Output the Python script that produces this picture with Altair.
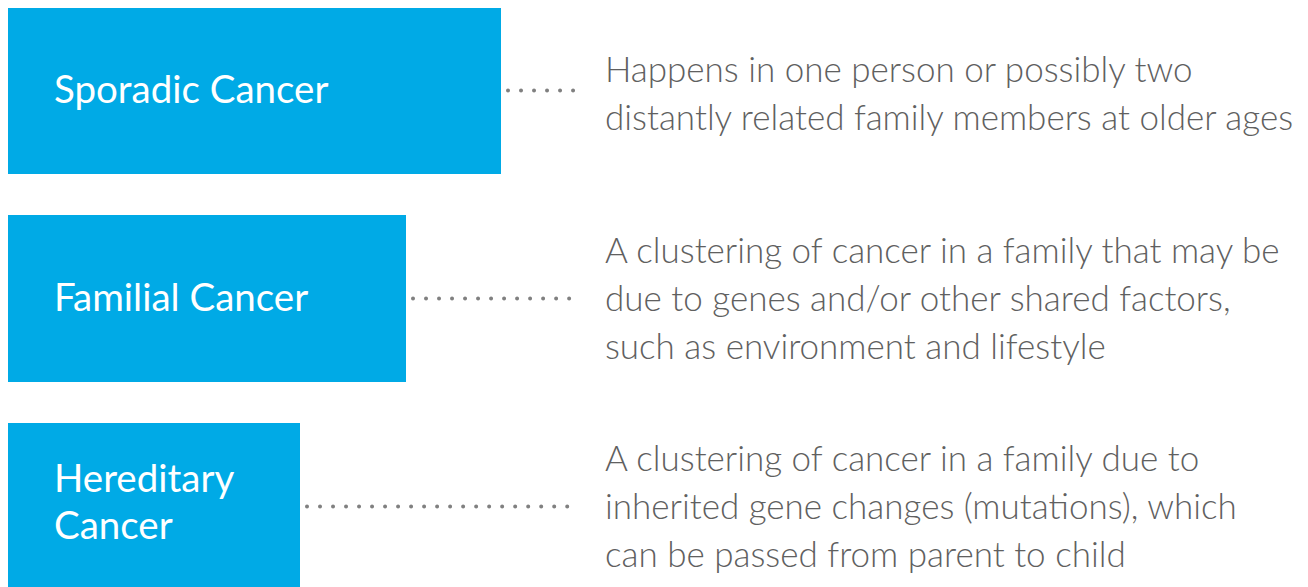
import altair as alt
import pandas as pd

categories = ["Sporadic Cancer", "Familial Cancer", "Hereditary Cancer"]
labels = ["Sporadic Cancer", "Familial Cancer", "Hereditary\nCancer"]
bar_lengths = [493, 398, 292]
descriptions = [
    "Happens in one person or possibly two\ndistantly related family members at older ages",
    "A clustering of cancer in a family that may be\ndue to genes and/or other shared factors,\nsuch as environment and lifestyle",
    "A clustering of cancer in a family due to\ninherited gene changes (mutations), which\ncan be passed from parent to child",
]

df = pd.DataFrame({
    "cat": categories,
    "label": labels,
    "length": bar_lengths,
    "desc": descriptions,
})
df["label_lines"] = df["label"].str.count("\n") + 1
df["desc_lines"] = df["desc"].str.count("\n") + 1

W, H = 1292, 579
BLUE = "#00AAE6"
LABEL_LH = 47
DESC_LH = 48
LABEL_NUDGE = {1: 0, 2: -3}
DESC_NUDGE = {2: 4, 3: 1.5}

y_enc = alt.Y(
    "cat:N",
    sort=categories,
    scale=alt.Scale(range=[-1, 582], paddingInner=0.197, paddingOuter=0),
    axis=None,
)
x_scale = alt.Scale(domain=[0, W], nice=False, zero=True)

base = alt.Chart(df)

bars = base.mark_bar(color=BLUE, cornerRadius=0, clip=True).encode(
    x=alt.X("length:Q", scale=x_scale, axis=None),
    x2=alt.value(1),
    y=y_enc,
)

dots = base.mark_rule(
    color="#808080", strokeWidth=4, strokeCap="round", strokeDash=[0.01, 13], xOffset=7
).encode(
    x=alt.X("length:Q", scale=x_scale, axis=None),
    x2=alt.value(568),
    y=y_enc,
)

layers = [bars, dots]
for n in sorted(df["label_lines"].unique()):
    n = int(n)
    layers.append(
        base.transform_filter(alt.datum.label_lines == n).mark_text(
            align="left", baseline="middle", font="Lato", fontSize=38.5, color="white",
            lineBreak="\n", lineHeight=LABEL_LH,
            dy=-(n - 1) * LABEL_LH / 2 + LABEL_NUDGE.get(n, 0),
        ).encode(x=alt.value(46), y=y_enc, text="label:N")
    )
for n in sorted(df["desc_lines"].unique()):
    n = int(n)
    layers.append(
        base.transform_filter(alt.datum.desc_lines == n).mark_text(
            align="left", baseline="middle", font="Lato", fontSize=35, fontWeight=300,
            color="#606060", lineBreak="\n", lineHeight=DESC_LH,
            dy=-(n - 1) * DESC_LH / 2 + DESC_NUDGE.get(n, 0),
        ).encode(x=alt.value(597), y=y_enc, text="desc:N")
    )

chart = (
    alt.layer(*layers)
    .properties(width=W, height=H, padding=0, autosize=alt.AutoSizeParams(type="none"))
    .configure(background="white")
    .configure_view(stroke=None)
)

chart.save("out.html", embed_options={"renderer": "svg", "actions": False})
